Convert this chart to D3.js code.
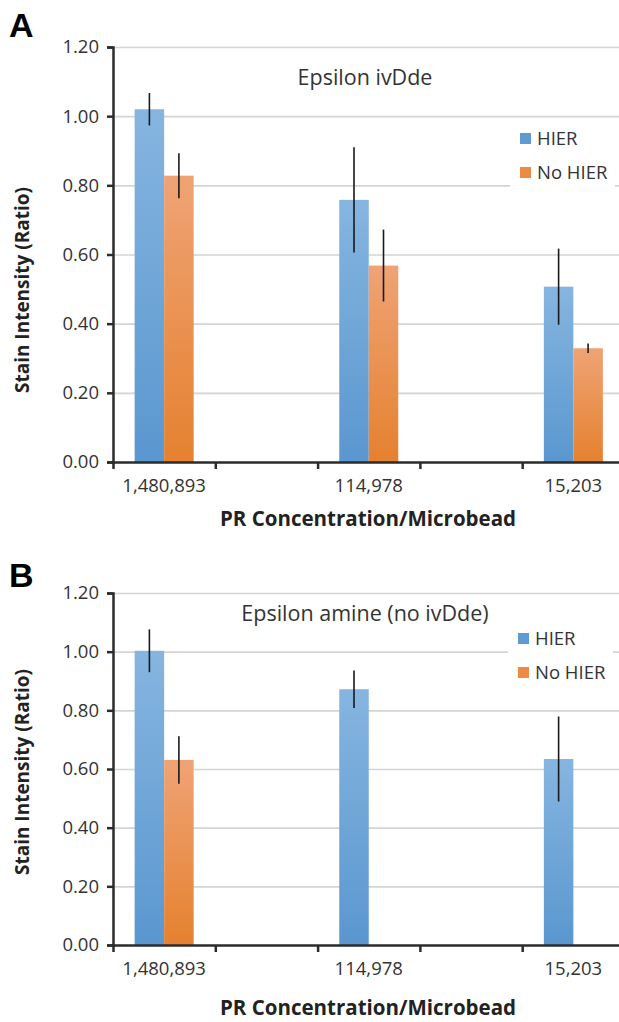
<!DOCTYPE html>
<html>
<head>
<meta charset="utf-8">
<script src="https://cdn.jsdelivr.net/npm/d3@7"></script>
<style>
  body { margin: 0; background: #fff; }
  text { font-family: "Open Sans", sans-serif; fill: #333; }
</style>
</head>
<body>
<svg width="619" height="1022"></svg>
<script>
// data
const categories = ["1,480,893", "114,978", "15,203"];
const series = ["HIER", "No HIER"];
const yTicks = [0, 0.2, 0.4, 0.6, 0.8, 1.0, 1.2];

const hierA = [1.02, 0.758, 0.507];
const hierErrA = [0.047, 0.152, 0.110];
const noHierA = [0.828, 0.568, 0.329];
const noHierErrA = [0.065, 0.104, 0.014];

const hierB = [1.003, 0.872, 0.634];
const hierErrB = [0.073, 0.064, 0.145];
const noHierB = [0.631, null, null];
const noHierErrB = [0.081, null, null];

var width = 619;
var svg = d3.select('svg');

// gradients like the excel fill
var defs = svg.append('defs');
function grad(id, top, bottom) {
    var g = defs.append('linearGradient').attr('id', id)
        .attr('x1', 0).attr('y1', 0).attr('x2', 0).attr('y2', 1);
    g.append('stop').attr('offset', '0%').attr('stop-color', top);
    g.append('stop').attr('offset', '100%').attr('stop-color', bottom);
}
grad('gBlue', '#86b5e0', '#5a97cf');
grad('gOrange', '#efa375', '#e5812f');
var fills = {"HIER": 'url(#gBlue)', "No HIER": 'url(#gOrange)'};
var swatch = {"HIER": '#5f9ad3', "No HIER": '#ed8a45'};

function panel(opts) {
    var g = svg.append('g');
    var left = 113;
    var slotW = 102.3;

    var yScale = d3.scaleLinear()
        .domain([0, 1.2])
        .range([opts.bottom, opts.top]);
    // excel puts 6 slots on the axis, labels on every other one
    var xSlot = d3.scaleBand()
        .domain(d3.range(6))
        .range([left, left + 6 * slotW]);
    var xSeries = d3.scaleBand()
        .domain(series)
        .range([0, xSlot.bandwidth()])
        .paddingOuter(0.734);
    var xTick = d3.scaleLinear()
        .domain([0, 6])
        .range([left, left + 6 * slotW]);

    // gridlines
    g.append('g')
        .attr('transform', 'translate(' + [left, 0] + ')')
        .call(d3.axisLeft(yScale).tickValues(yTicks.slice(1)).tickSize(-(width - left)).tickFormat(''))
        .call(s => s.select('.domain').remove())
        .selectAll('line').attr('stroke', '#d4d4d4').attr('stroke-width', 1.6);

    // title
    g.append('text')
        .attr('x', 365).attr('y', opts.titleY)
        .attr('text-anchor', 'middle')
        .style('font-size', '21.5px')
        .text(opts.title);

    // legend (white box knocks out the gridline)
    var leg = g.append('g');
    leg.append('rect')
        .attr('x', opts.legX - 10).attr('y', opts.legY - 9)
        .attr('width', 105).attr('height', 66)
        .attr('fill', '#fff');
    series.forEach(function (s, i) {
        leg.append('rect')
            .attr('x', opts.legX).attr('y', opts.legY + i * 34)
            .attr('width', 11).attr('height', 11)
            .attr('fill', swatch[s]);
        leg.append('text')
            .attr('x', opts.legX + 17).attr('y', opts.legY + 12 + i * 34)
            .style('font-size', '18.5px')
            .text(s);
    });

    // bars
    var rows = [];
    categories.forEach(function (c, i) {
        rows.push({cat: i, s: "HIER", v: opts.hier[i], e: opts.hierErr[i]});
        rows.push({cat: i, s: "No HIER", v: opts.noHier[i], e: opts.noHierErr[i]});
    });
    rows = rows.filter(d => d.v != null);

    g.selectAll('rect.bar')
        .data(rows)
        .enter().append('rect')
        .attr('class', 'bar')
        .attr('x', d => xSlot(d.cat * 2) + xSeries(d.s))
        .attr('y', d => yScale(d.v))
        .attr('width', xSeries.bandwidth())
        .attr('height', d => yScale(0) - yScale(d.v))
        .attr('fill', d => fills[d.s]);

    g.selectAll('line.err')
        .data(rows)
        .enter().append('line')
        .attr('class', 'err')
        .attr('x1', d => xSlot(d.cat * 2) + xSeries(d.s) + xSeries.bandwidth() / 2)
        .attr('x2', d => xSlot(d.cat * 2) + xSeries(d.s) + xSeries.bandwidth() / 2)
        .attr('y1', d => yScale(d.v + d.e))
        .attr('y2', d => yScale(d.v - d.e))
        .attr('stroke', '#1a1a1a')
        .attr('stroke-width', 1.6);

    // y axis
    var yAxis = d3.axisLeft(yScale)
        .tickValues(yTicks)
        .tickSize(6)
        .tickPadding(8)
        .tickFormat(d3.format('.2f'));
    g.append('g')
        .attr('transform', 'translate(' + [left, 0] + ')')
        .call(yAxis)
        .call(s => s.selectAll('text').style('font-size', '18.5px').attr('fill', '#333').attr('font-family', null))
        .call(s => s.selectAll('line, .domain').attr('stroke', '#2b2b2b').attr('stroke-width', 2.5));

    // x axis: tick marks between slots
    var xAxis = d3.axisBottom(xTick)
        .tickValues(d3.range(7))
        .tickSize(7)
        .tickSizeOuter(0)
        .tickFormat('');
    g.append('g')
        .attr('transform', 'translate(' + [0, opts.bottom] + ')')
        .call(xAxis)
        .call(s => s.selectAll('line, .domain').attr('stroke', '#2b2b2b').attr('stroke-width', 2.5));

    g.selectAll('text.cat')
        .data(categories)
        .enter().append('text')
        .attr('class', 'cat')
        .attr('x', (d, i) => xSlot(i * 2) + xSlot.bandwidth() / 2)
        .attr('y', opts.bottom + 30)
        .attr('text-anchor', 'middle')
        .style('font-size', '18.5px')
        .text(d => d);

    // axis titles
    g.append('text')
        .attr('transform', 'translate(' + [29, opts.yTitleY] + ') rotate(-90)')
        .attr('text-anchor', 'middle')
        .style('font-size', '19px').style('font-weight', 'bold').style('fill', '#222')
        .text('Stain Intensity (Ratio)');
    g.append('text')
        .attr('x', 368).attr('y', opts.xTitleY)
        .attr('text-anchor', 'middle')
        .style('font-size', '20.5px').style('font-weight', 'bold').style('fill', '#222')
        .text('PR Concentration/Microbead');

    // panel letter
    g.append('text')
        .attr('x', 9).attr('y', opts.letterY)
        .style('font-family', 'Liberation Sans, Arial, sans-serif')
        .style('font-size', '34px').style('font-weight', 'bold').style('fill', '#000')
        .text(opts.letter);
}

panel({
    letter: 'A', letterY: 37,
    top: 47, bottom: 462,
    title: 'Epsilon ivDde', titleY: 85,
    legX: 520, legY: 133,
    yTitleY: 290, xTitleY: 526,
    hier: hierA, hierErr: hierErrA, noHier: noHierA, noHierErr: noHierErrA
});

panel({
    letter: 'B', letterY: 587,
    top: 593, bottom: 945,
    title: 'Epsilon amine (no ivDde)', titleY: 621,
    legX: 518, legY: 633,
    yTitleY: 772, xTitleY: 1015,
    hier: hierB, hierErr: hierErrB, noHier: noHierB, noHierErr: noHierErrB
});
</script>
</body>
</html>
